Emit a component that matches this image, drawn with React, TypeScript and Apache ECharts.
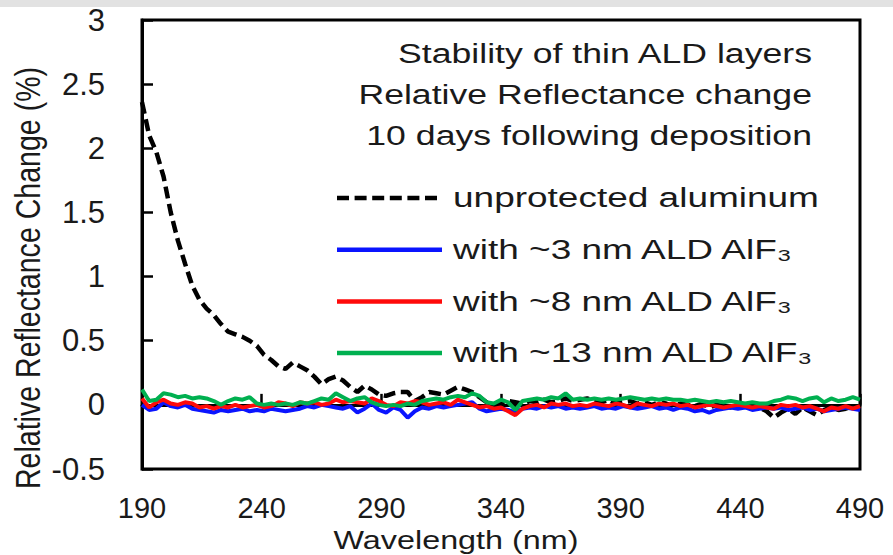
import React, { useEffect, useRef } from "react";
import * as echarts from "echarts";

// Wavelength grid (nm), 3 nm steps from 190 to 490
const wavelengths: number[] = [];
for (let w = 190; w <= 490; w += 3) wavelengths.push(w);

const xTicks = [190, 240, 290, 340, 390, 440, 490];

// Relative reflectance change (%) after 10 days
const unprotected = [
  2.36, 2.10, 1.97, 1.78, 1.50, 1.28, 1.10, 0.93, 0.82, 0.75,
  0.70, 0.63, 0.57, 0.55, 0.53, 0.50, 0.46, 0.39, 0.35, 0.30,
  0.28, 0.33, 0.30, 0.27, 0.22, 0.16, 0.20, 0.22, 0.19, 0.14,
  0.10, 0.15, 0.12, 0.08, 0.07, 0.09, 0.10, 0.10, 0.03, 0.06,
  0.10, 0.09, 0.08, 0.11, 0.14, 0.12, 0.10, 0.06, 0.02, 0.00,
  0.01, 0.03, 0.02, 0.01, 0.03, 0.02, 0.04, 0.02, 0.03, 0.05,
  0.03, 0.04, 0.05, 0.03, 0.02, 0.04, 0.01, 0.02, 0.03, 0.01,
  0.02, 0.00, 0.02, 0.01, -0.01, 0.01, 0.00, -0.01, 0.01, -0.02,
  0.00, -0.01, -0.02, 0.00, -0.01, -0.03, -0.02, -0.05, -0.10, -0.06,
  -0.03, -0.07, -0.02, -0.05, -0.08, -0.04, -0.02, -0.04, -0.03, -0.01,
  -0.03,
];

const ald3nm = [
  0.00, -0.04, -0.03, 0.02, -0.01, -0.02, 0.00, -0.03, -0.04, -0.05,
  -0.06, -0.04, -0.05, -0.04, -0.03, -0.05, -0.04, -0.05, -0.03, -0.04,
  -0.05, -0.04, -0.03, -0.01, -0.02, 0.00, -0.01, -0.02, -0.03, -0.01,
  -0.06, -0.03, 0.01, -0.04, -0.06, -0.02, -0.04, -0.10, -0.05, -0.02,
  -0.03, -0.01, -0.02, -0.01, 0.00, 0.01, 0.02, -0.03, -0.05, -0.04,
  -0.03, -0.04, -0.06, -0.03, -0.02, -0.03, -0.01, -0.02, -0.01, -0.03,
  -0.02, -0.03, -0.02, -0.01, -0.03, -0.02, -0.03, -0.01, -0.02, -0.03,
  -0.02, -0.01, -0.03, -0.02, -0.04, -0.02, -0.03, -0.05, -0.04, -0.06,
  -0.04, -0.03, -0.02, -0.03, -0.02, -0.04, -0.03, -0.02, -0.03, -0.02,
  -0.04, -0.03, -0.02, -0.04, -0.03, -0.05, -0.04, -0.03, -0.02, -0.03,
  -0.04,
];

const ald8nm = [
  0.05, -0.02, 0.02, 0.04, 0.01, 0.00, 0.02, 0.01, -0.02, -0.01,
  -0.03, -0.01, -0.02, 0.00, -0.02, -0.01, 0.00, -0.02, -0.01, 0.02,
  0.01, -0.01, 0.02, 0.01, 0.02, 0.00, 0.01, 0.04, 0.02, 0.03,
  0.02, 0.01, 0.05, 0.03, 0.00, -0.01, 0.02, 0.01, 0.03, 0.02,
  0.00, 0.01, 0.02, 0.00, 0.04, 0.02, 0.00, -0.02, -0.01, -0.03,
  -0.02, -0.05, -0.08, -0.03, -0.01, 0.00, -0.02, 0.01, 0.00, 0.01,
  -0.01, 0.00, -0.01, 0.01, 0.00, -0.01, 0.01, 0.00, -0.02, 0.01,
  0.00, -0.01, 0.01, 0.00, 0.01, -0.01, 0.00, -0.02, -0.01, 0.00,
  -0.01, -0.02, -0.01, 0.00, -0.01, -0.02, -0.01, -0.02, -0.03, 0.00,
  -0.01, 0.00, -0.02, -0.01, -0.03, -0.05, -0.02, -0.03, -0.01, -0.03,
  -0.01,
];

const ald13nm = [
  0.12, 0.03, 0.04, 0.09, 0.08, 0.06, 0.07, 0.05, 0.06, 0.05,
  0.03, 0.00, 0.03, 0.05, 0.04, 0.06, 0.01, 0.00, 0.01, 0.00,
  0.01, 0.00, 0.02, 0.01, 0.03, 0.05, 0.04, 0.09, 0.06, 0.03,
  0.05, 0.06, 0.02, 0.00, -0.01, 0.00, -0.01, 0.01, 0.00, 0.03,
  0.04, 0.05, 0.04, 0.06, 0.07, 0.06, 0.09, 0.07, 0.02, 0.01,
  0.04, 0.02, -0.04, 0.03, 0.04, 0.05, 0.04, 0.06, 0.05, 0.09,
  0.04, 0.05, 0.04, 0.05, 0.04, 0.05, 0.04, 0.05, 0.06, 0.05,
  0.04, 0.05, 0.04, 0.05, 0.04, 0.04, 0.03, 0.04, 0.03, 0.02,
  0.03, 0.02, 0.03, 0.02, 0.01, 0.02, 0.01, 0.01, 0.03, 0.04,
  0.06, 0.05, 0.03, 0.05, 0.06, 0.02, 0.05, 0.03, 0.04, 0.06,
  0.04,
];

const seriesNames = [
  "unprotected aluminum",
  "with ~3 nm ALD AlF₃",
  "with ~8 nm ALD AlF₃",
  "with ~13 nm ALD AlF₃",
];
const seriesColors = ["#000000", "#0a14ff", "#ff0a0a", "#00b050"];

const titleLines = [
  "Stability of thin ALD layers",
  "Relative Reflectance change",
  "10 days following deposition",
];

const FONT = "'Liberation Sans', 'DejaVu Sans', sans-serif";
const TEXT = "#1a1a1a";
const DASH = [12, 5.6];
// caption and key texts are drawn a little wider than the font's natural width
const TITLE_WIDE = 1.32;
const KEY_WIDE = 1.37;

const pairs = (ys: number[]) => wavelengths.map((w, i) => [w, ys[i]]);

export default function App() {
  const ref = useRef<HTMLDivElement>(null);

  useEffect(() => {
    if (!ref.current) return;
    const chart = echarts.init(ref.current, null, { renderer: "svg" });
    const line = (name: string, ys: number[], color: string, dashed = false) => ({
      name,
      type: "line",
      data: pairs(ys),
      showSymbol: false,
      symbol: "none",
      lineStyle: {
        color,
        width: dashed ? 4.5 : 4,
        type: dashed ? DASH : "solid",
      },
      itemStyle: { color },
    });

    // right-aligned caption, three lines 41 px apart
    const titleGraphics = titleLines.map((t, i) => ({
      type: "text",
      x: 812,
      y: 54 + i * 41,
      scaleX: TITLE_WIDE,
      style: {
        text: t,
        textAlign: "right",
        textVerticalAlign: "middle",
        fontSize: 27,
        fill: TEXT,
        fontFamily: FONT,
      },
    }));

    // key: a line sample and its label per series, 51.7 px apart
    const keyGraphics = seriesNames.flatMap((name, i) => {
      const y = 198 + i * 51.7;
      return [
        {
          type: "line",
          shape: { x1: 337, y1: y, x2: 442, y2: y },
          style: {
            stroke: seriesColors[i],
            lineWidth: 4.5,
            lineDash: i === 0 ? DASH : null,
          },
          silent: true,
        },
        {
          type: "text",
          x: 453,
          y,
          scaleX: KEY_WIDE,
          style: {
            text: name,
            textAlign: "left",
            textVerticalAlign: "middle",
            fontSize: 27,
            fill: TEXT,
            fontFamily: FONT,
          },
        },
      ];
    });

    chart.setOption({
      animation: false,
      backgroundColor: "#ffffff",
      textStyle: { fontFamily: FONT },
      grid: {
        left: 142,
        right: 33,
        top: 20,
        bottom: 86,
        show: true,
        borderColor: "#000",
        borderWidth: 3,
        backgroundColor: "transparent",
      },
      xAxis: {
        type: "value",
        min: 190,
        max: 490,
        axisLine: { show: true, lineStyle: { color: "#000", width: 3 } },
        axisTick: {
          show: true,
          inside: true,
          length: 11,
          customValues: xTicks,
          lineStyle: { color: "#000", width: 2.5 },
        },
        axisLabel: {
          customValues: xTicks,
          margin: 23,
          fontSize: 29,
          lineHeight: 32,
          color: TEXT,
          fontFamily: FONT,
        },
        splitLine: { show: false },
      },
      yAxis: {
        type: "value",
        min: -0.5,
        max: 3,
        interval: 0.5,
        axisLine: { show: true, lineStyle: { color: "#000", width: 3 } },
        axisTick: {
          show: true,
          inside: true,
          length: 11,
          lineStyle: { color: "#000", width: 2.5 },
        },
        axisLabel: {
          margin: 37,
          fontSize: 31,
          color: TEXT,
          fontFamily: FONT,
        },
        splitLine: { show: false },
      },
      series: [
        line(seriesNames[0], unprotected, seriesColors[0], true),
        line(seriesNames[1], ald3nm, seriesColors[1]),
        line(seriesNames[2], ald8nm, seriesColors[2]),
        line(seriesNames[3], ald13nm, seriesColors[3]),
      ],
      graphic: [
        {
          type: "rect",
          shape: { x: 0, y: 0, width: 893, height: 7 },
          style: { fill: "#e2e2e2" },
          silent: true,
        },
        ...titleGraphics,
        ...keyGraphics,
        {
          type: "text",
          x: 29,
          y: 278,
          rotation: Math.PI / 2,
          scaleX: 1.02,
          scaleY: 1.22,
          style: {
            text: "Relative Reflectance Change (%)",
            textAlign: "center",
            textVerticalAlign: "middle",
            fontSize: 28,
            fill: TEXT,
            fontFamily: FONT,
          },
        },
        {
          type: "text",
          x: 456,
          y: 540,
          scaleX: 1.22,
          style: {
            text: "Wavelength (nm)",
            textAlign: "center",
            textVerticalAlign: "middle",
            fontSize: 26.5,
            fill: TEXT,
            fontFamily: FONT,
          },
        },
      ],
    });
    return () => chart.dispose();
  }, []);

  return (
    <div
      ref={ref}
      style={{ position: "fixed", left: 0, top: 0, width: 893, height: 555 }}
    />
  );
}
